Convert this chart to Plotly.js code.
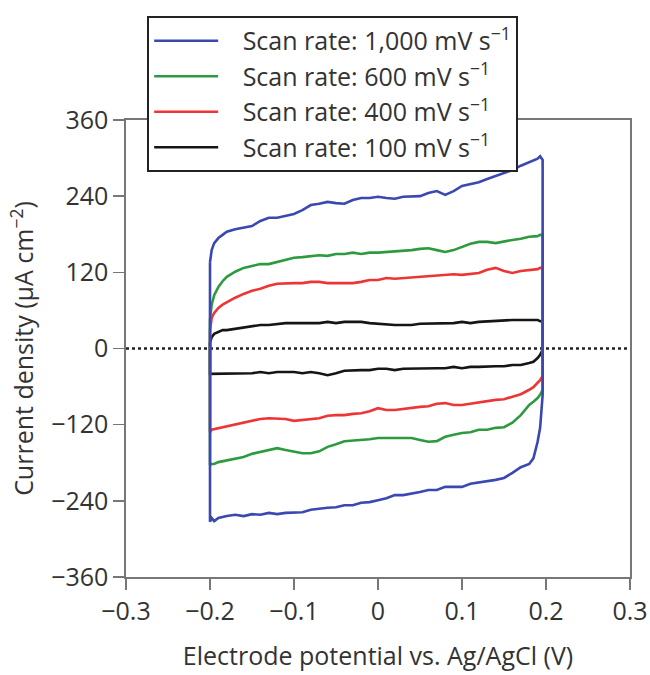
<!DOCTYPE html>
<html>
<head>
<meta charset="utf-8">
<script src="https://cdn.plot.ly/plotly-3.0.1.min.js"></script>
<style>html,body{margin:0;padding:0;background:#fff;}#chart{width:650px;height:675px;}</style>
</head>
<body>
<div id="chart"></div>
<script>
// Electrode potential grids (V) for the anodic (upper) and cathodic (lower) branches
const potentialTop = [-0.2, -0.198, -0.195, -0.19, -0.185, -0.18, -0.17, -0.16, -0.15, -0.14, -0.13, -0.12, -0.11, -0.10, -0.09, -0.08, -0.07, -0.06, -0.05, -0.04, -0.03, -0.02, -0.01, 0, 0.01, 0.02, 0.03, 0.04, 0.05, 0.06, 0.07, 0.08, 0.09, 0.10, 0.11, 0.12, 0.13, 0.14, 0.15, 0.16, 0.17, 0.18, 0.19, 0.193, 0.196];
const potentialBottom = [-0.2, -0.198, -0.195, -0.19, -0.18, -0.17, -0.16, -0.15, -0.14, -0.13, -0.12, -0.11, -0.10, -0.09, -0.08, -0.07, -0.06, -0.05, -0.04, -0.03, -0.02, -0.01, 0, 0.01, 0.02, 0.03, 0.04, 0.05, 0.06, 0.07, 0.08, 0.09, 0.10, 0.11, 0.12, 0.13, 0.14, 0.15, 0.16, 0.17, 0.18, 0.185, 0.19, 0.193, 0.196];

// Current density (µA cm^-2)
const rate1000Top = [136, 155, 166, 174, 179, 184, 188, 190, 193, 201, 206, 206, 209, 212, 218, 226, 228, 231, 229, 228, 234, 237, 237, 239, 237, 236, 239, 239, 240, 245, 248, 242, 248, 256, 259, 262, 267, 272, 277, 281, 288, 294, 299, 303, 297];
const rate1000Bottom = [-273, -267, -272, -267, -264, -262, -264, -261, -262, -259, -261, -259, -258, -258, -254, -253, -251, -250, -247, -247, -243, -242, -239, -236, -231, -231, -228, -226, -223, -223, -218, -218, -218, -213, -210, -209, -207, -204, -196, -187, -182, -173, -147, -125, -73];
const rate600Top = [45, 69, 84, 97, 106, 113, 121, 127, 130, 133, 133, 136, 139, 143, 144, 146, 147, 146, 149, 149, 151, 149, 151, 151, 152, 152, 154, 155, 157, 158, 155, 152, 155, 160, 165, 168, 168, 166, 169, 171, 173, 176, 177, 179, 179];
const rate600Bottom = [-184, -182, -182, -179, -177, -174, -171, -166, -163, -160, -157, -160, -163, -165, -165, -162, -155, -151, -146, -144, -144, -143, -141, -141, -141, -141, -141, -144, -147, -146, -139, -136, -133, -132, -128, -128, -125, -124, -117, -105, -89, -84, -78, -73, -65];
const rate400Top = [29, 48, 56, 64, 69, 73, 80, 86, 91, 94, 99, 102, 103, 103, 103, 105, 105, 103, 103, 103, 103, 105, 108, 108, 111, 110, 111, 113, 113, 114, 116, 117, 117, 116, 117, 119, 124, 127, 122, 119, 122, 124, 125, 127, 127];
const rate400Bottom = [-132, -128, -127, -125, -122, -119, -117, -114, -111, -110, -110, -111, -114, -113, -111, -110, -106, -105, -105, -103, -102, -99, -94, -97, -97, -95, -94, -92, -91, -87, -86, -89, -89, -87, -86, -83, -81, -80, -76, -72, -65, -61, -54, -50, -43];
const rate100Top = [9, 18, 23, 26, 29, 29, 31, 32, 34, 37, 37, 39, 40, 40, 40, 39, 40, 42, 40, 42, 42, 42, 40, 39, 37, 37, 37, 37, 39, 39, 40, 40, 40, 42, 40, 42, 43, 43, 45, 45, 45, 45, 45, 43, 43];
const rate100Bottom = [-40, -40, -39, -39, -40, -39, -39, -39, -37, -39, -37, -37, -37, -39, -37, -39, -42, -39, -35, -35, -34, -34, -32, -32, -34, -32, -32, -32, -31, -31, -31, -29, -31, -29, -29, -29, -28, -28, -26, -26, -23, -21, -15, -10, -2];

const seriesNames = ['Scan rate: 1,000 mV s<sup>−1</sup>', 'Scan rate: 600 mV s<sup>−1</sup>', 'Scan rate: 400 mV s<sup>−1</sup>', 'Scan rate: 100 mV s<sup>−1</sup>'];
const xTicks = [-0.3, -0.2, -0.1, 0, 0.1, 0.2, 0.3];
const yTicks = [-360, -240, -120, 0, 120, 240, 360];
const zeroLineX = [-0.3, 0.3];
const zeroLineY = [0, 0];

function cvLoop(top, bottom) {
  const x = potentialTop.concat(potentialBottom.slice().reverse(), [potentialTop[0]]);
  const y = top.concat(bottom.slice().reverse(), [top[0]]);
  return {x: x, y: y};
}

const colors = ['#3b48b0', '#2e9a40', '#ee3535', '#151515'];
const loops = [
  cvLoop(rate1000Top, rate1000Bottom),
  cvLoop(rate600Top, rate600Bottom),
  cvLoop(rate400Top, rate400Bottom),
  cvLoop(rate100Top, rate100Bottom)
];

const traces = [{
  x: zeroLineX, y: zeroLineY, mode: 'lines', showlegend: false, hoverinfo: 'skip',
  line: {color: '#222', width: 2.6, dash: 'dot'}
}];
for (let i = 3; i >= 0; i--) {
  traces.push({
    x: loops[i].x, y: loops[i].y, mode: 'lines', name: '\u00a0\u00a0\u00a0' + seriesNames[i],
    legendgroup: 'g' + i, legendrank: i + 1,
    line: {color: colors[i], width: 2.6}
  });
}

const font = 'Open Sans, Noto Sans, sans-serif';
const txt = '#333';
const fs = 25;
const layout = {
  width: 650, height: 675,
  margin: {l: 126, r: 20, t: 120, b: 98},
  paper_bgcolor: '#fff', plot_bgcolor: '#fff',
  font: {family: font, size: fs, color: txt},
  showlegend: true,
  legend: {
    x: 0.042, y: 1.2276, xanchor: 'left', yanchor: 'top',
    bgcolor: '#fff', bordercolor: '#222', borderwidth: 2,
    font: {family: font, size: fs, color: txt},
    traceorder: 'grouped', tracegroupgap: 0, itemwidth: 64
  },
  xaxis: {
    range: [-0.3, 0.3], tickvals: xTicks, ticks: 'outside', ticklen: 11, tickwidth: 1.6,
    tickcolor: '#777', showline: true, linecolor: '#777', linewidth: 1.6, mirror: true,
    showgrid: false, zeroline: false,
    tickfont: {family: font, size: fs, color: txt},
    title: {text: 'Electrode potential vs. Ag/AgCl (V)', font: {family: font, size: fs, color: txt}, standoff: 22}
  },
  yaxis: {
    range: [-360, 360], tickvals: yTicks, ticks: 'outside', ticklen: 11, tickwidth: 1.6,
    tickcolor: '#777', showline: true, linecolor: '#777', linewidth: 1.6, mirror: true,
    showgrid: false, zeroline: false,
    tickfont: {family: font, size: fs, color: txt},
    title: {text: 'Current density (µA cm<sup>−2</sup>)', font: {family: font, size: fs, color: txt}, standoff: 10}
  }
};

Plotly.newPlot('chart', traces, layout, {displayModeBar: false, staticPlot: true});
</script>
</body>
</html>
